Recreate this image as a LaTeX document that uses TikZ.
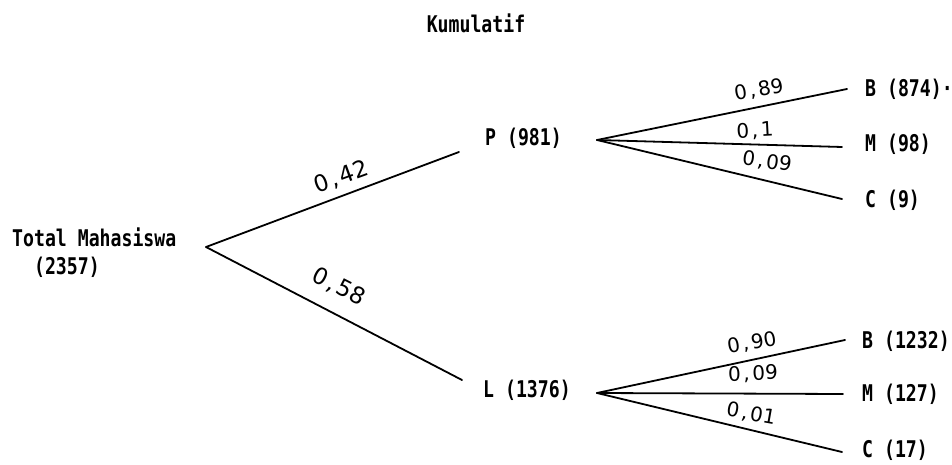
\documentclass[tikz,border=0pt]{standalone}
\usepackage{fontspec}
\newfontfamily\dotfont[FakeStretch=0.79]{DejaVu Sans Mono Bold}
\newfontfamily\handfont{DejaVu Sans}
\newcommand{\cm}{\kern2.5pt,\kern2.5pt}
\tikzset{
  txt/.style={inner sep=0pt, font=\dotfont\fontsize{23}{28}\selectfont, anchor=base west},
  prob/.style={inner sep=0pt, font=\handfont\fontsize{20}{22}\selectfont},
  bigprob/.style={inner sep=0pt, font=\handfont\fontsize{23}{24}\selectfont},
  branch/.style={line width=1.8pt, line cap=round},
}
\begin{document}
\begin{tikzpicture}[x=1pt,y=-1pt]
\useasboundingbox (0,0) rectangle (952,465);
% texts
\node[txt, anchor=base] (title) at (476,33) {Kumulatif};
\node[txt, align=left] (root) at (12,274) {Total Mahasiswa\\\phantom{To}(2357)};
\node[txt] (P) at (485,146) {P (981)};
\node[txt] (L) at (483,397) {L (1376)};
\node[txt] (B1) at (865,97) {B (874)·};
\node[txt] (M1) at (865,152) {M (98)};
\node[txt] (C1) at (865,207) {C (9)};
\node[txt] (B2) at (862,348) {B (1232)};
\node[txt] (M2) at (862,401) {M (127)};
\node[txt] (C2) at (862,457) {C (17)};
% connector ends
\coordinate (r) at (206,247);
\coordinate (pin) at (459,152);
\coordinate (lin) at (462,380);
\coordinate (pout) at (597,140);
\coordinate (lout) at (597,393);
\coordinate (b1) at (847,89);
\coordinate (m1) at (842,147);
\coordinate (c1) at (842,199);
\coordinate (b2) at (845,340);
\coordinate (m2) at (843,394);
\coordinate (c2) at (842,452);
% connectors
\draw[branch] (r) -- (pin);
\draw[branch] (r) -- (lin);
\draw[branch] (pout) -- (b1);
\draw[branch] (pout) -- (m1);
\draw[branch] (pout) -- (c1);
\draw[branch] (lout) -- (b2);
\draw[branch] (lout) -- (m2);
\draw[branch] (lout) -- (c2);
% probabilities
\node[bigprob, rotate=20] (p42) at (341,177) {0\cm42};
\node[bigprob, rotate=-27] (p58) at (339,287) {0\cm58};
\node[prob, rotate=10] (p89) at (759,90) {0\cm89};
\node[prob, rotate=3] (p1) at (755,131) {0\cm1};
\node[prob, rotate=-8] (p09a) at (767,162) {0\cm09};
\node[prob, rotate=10] (p90) at (752,343) {0\cm90};
\node[prob, rotate=2] (p09b) at (753,374) {0\cm09};
\node[prob, rotate=-10] (p01) at (751,414) {0\cm01};
\end{tikzpicture}
\end{document}
